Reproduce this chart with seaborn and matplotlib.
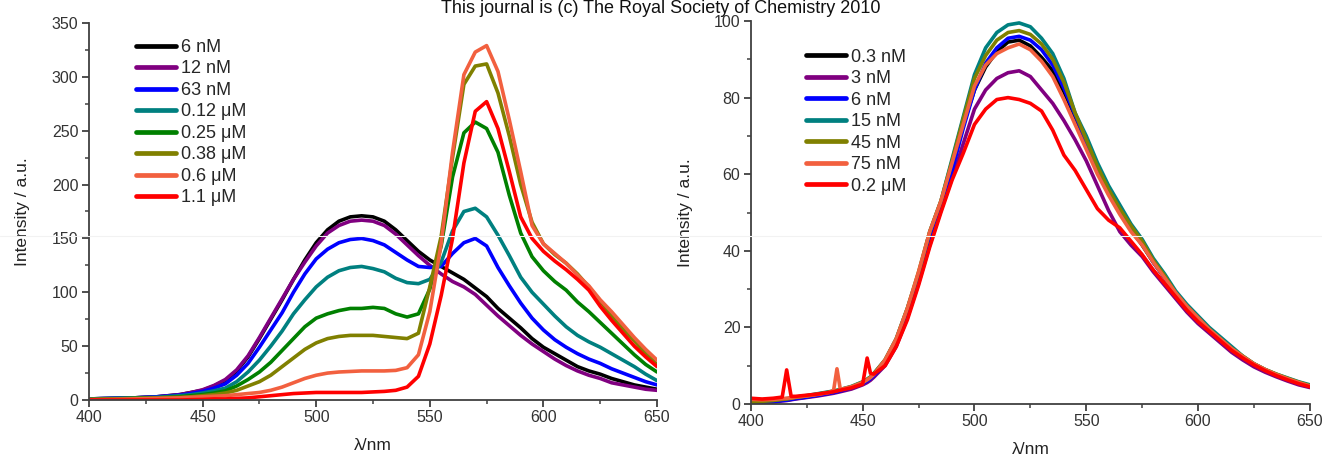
import numpy as np
import pandas as pd
import matplotlib
matplotlib.use("Agg")
import matplotlib.pyplot as plt
from matplotlib.lines import Line2D
from matplotlib.ticker import MultipleLocator
import seaborn as sns

# ---------------- left panel: emission spectra ----------------
wl_left = [400, 410, 420, 430, 440, 445, 450, 455, 460, 465, 470, 475, 480, 485,
           490, 495, 500, 505, 510, 515, 520, 525, 530, 535, 540, 545, 550, 555,
           560, 565, 570, 575, 580, 585, 590, 595, 600, 605, 610, 615, 620, 625,
           630, 635, 640, 645, 650]

left_labels = ['6 nM', '12 nM', '63 nM', '0.12 μM', '0.25 μM', '0.38 μM', '0.6 μM', '1.1 μM']
left_colors = ['#000000', '#800080', '#0000ff', '#008080', '#008000', '#808000', '#f2603f', '#ff0000']

l_6nM = [1, 1.5, 2, 3, 5, 7, 9, 13, 18, 27, 40, 57, 75, 93, 112, 130, 146, 158, 166, 170,
         171, 170, 166, 158, 148, 138, 130, 124, 118, 112, 104, 96, 85, 76, 67, 57, 49, 43,
         37, 31, 27, 24, 20, 17, 14, 12, 10]
l_12nM = [1, 1.5, 2, 3, 5, 7, 9.5, 13.5, 19, 28, 41, 58, 76, 94, 112, 128, 143, 155, 162, 166,
          167, 166, 162, 154, 144, 134, 125, 117, 110, 105, 98, 88, 78, 69, 60, 52, 45, 38,
          32, 27, 23, 20, 16, 14, 12, 10, 9]
l_63nM = [1, 1.5, 2, 3, 4.5, 6, 8, 11, 15, 23, 34, 49, 65, 81, 100, 117, 131, 140, 146, 149,
          150, 148, 144, 137, 130, 124, 123, 124, 136, 146, 150, 143, 123, 106, 90, 76, 65, 56,
          49, 43, 38, 34, 29, 25, 21, 17, 14]
l_012uM = [1, 1.5, 2, 2.5, 4, 5, 6.5, 8.5, 11, 17, 26, 37, 50, 64, 80, 93, 105, 114, 120, 123,
           124, 122, 119, 113, 109, 108, 112, 128, 157, 175, 178, 170, 153, 134, 114, 100, 89,
           78, 68, 60, 54, 49, 43, 37, 31, 24, 18]
l_025uM = [0.5, 1, 1.5, 2, 3, 4, 5, 6.5, 8.5, 13, 19, 26, 35, 46, 57, 68, 76, 80, 83, 85,
           85, 86, 85, 80, 77, 80, 103, 143, 207, 248, 258, 252, 230, 190, 155, 133, 120,
           110, 102, 91, 82, 72, 62, 52, 42, 33, 26]
l_038uM = [0.5, 1, 1.5, 2, 2.5, 3, 4, 5, 6.5, 9, 13, 17, 23, 31, 39, 47, 53, 57, 59, 60,
           60, 60, 59, 58, 57, 62, 105, 152, 225, 293, 310, 312, 285, 245, 200, 165, 145,
           135, 127, 117, 105, 92, 78, 66, 55, 43, 33]
l_06uM = [0.3, 0.5, 1, 1.5, 2, 2.5, 3, 3.5, 4, 5, 6, 7, 9, 12, 16, 20, 23, 25, 26, 26.5,
          27, 27, 27, 27.5, 30, 42, 82, 145, 230, 302, 323, 329, 305, 260, 212, 162, 145,
          136, 127, 116, 106, 93, 82, 70, 58, 47, 37]
l_11uM = [0, 0, 0, 0, 0, 0.3, 0.5, 1, 1, 1.5, 2, 3, 4, 5, 6, 6.5, 7, 7, 7, 7,
          7, 7.5, 8, 9, 12, 22, 52, 97, 150, 220, 268, 277, 252, 212, 170, 150, 138,
          129, 121, 112, 102, 87, 74, 62, 50, 40, 31]
left_series = [l_6nM, l_12nM, l_63nM, l_012uM, l_025uM, l_038uM, l_06uM, l_11uM]

# ---------------- right panel: emission spectra ----------------
wl_right = [400, 405, 410, 414, 416, 418, 420, 425, 430, 435, 437, 438.5, 440, 445, 450,
            452, 453.5, 455, 460, 465, 470, 475, 480, 485, 490, 495, 500, 505, 510, 515,
            520, 525, 530, 535, 540, 545, 550, 555, 560, 565, 570, 575, 580, 585, 590,
            595, 600, 605, 610, 615, 620, 625, 630, 635, 640, 645, 650]

right_labels = ['0.3 nM', '3 nM', '6 nM', '15 nM', '45 nM', '75 nM', '0.2 μM']
right_colors = ['#000000', '#800080', '#0000ff', '#008080', '#808000', '#f2603f', '#ff0000']

r_03nM = [0.3, 0.5, 0.7, 1, 1.1, 1.3, 1.5, 1.9, 2.4, 2.9, 3.1, 3.3, 3.5, 4.3, 5.4, 6.1, 6.7, 7.5,
          11, 16, 24, 33.5, 44, 52, 62, 73, 82, 88, 92, 94.5, 95, 93.5, 90.5, 87, 81.5, 75, 68,
          61, 55, 50, 45.5, 41.5, 37, 33, 29, 25.5, 22.3, 19.5, 17, 14.5, 12.3, 10.4, 8.9,
          7.6, 6.5, 5.5, 4.7]
r_3nM = [0.2, 0.3, 0.5, 0.8, 0.9, 1.1, 1.3, 1.7, 2.1, 2.6, 2.8, 3, 3.2, 3.9, 5, 5.6, 6.2, 7,
         10, 15, 22.5, 31.5, 41.5, 50.5, 59, 68, 77, 82, 85, 86.5, 87, 85.5, 82, 78.5, 74, 69,
         63.5, 57, 50.5, 45, 41.5, 38.5, 34.5, 31, 27.5, 24, 21, 18.5, 16, 13.5, 11.5, 9.7,
         8.3, 7.1, 6, 5, 4.3]
r_6nM = [0.2, 0.4, 0.6, 0.9, 1, 1.2, 1.4, 1.8, 2.3, 2.8, 3, 3.2, 3.4, 4.2, 5.3, 6, 6.6, 7.4,
         10.5, 15.5, 23, 32.5, 43, 51, 61, 72, 82, 89, 93, 95.5, 96, 95, 92.5, 88.5, 82.5,
         75.5, 68.5, 61.5, 55.5, 50.5, 46, 42, 37, 33, 29, 25.5, 22.5, 19.5, 17, 14.5, 12.3,
         10.4, 8.9, 7.6, 6.5, 5.5, 4.7]
r_15nM = [0.5, 0.8, 1, 1.3, 1.4, 1.6, 1.8, 2.2, 2.7, 3.2, 3.4, 3.6, 3.8, 4.6, 5.8, 6.5, 7.1, 8,
          11.5, 17, 25, 34, 45, 53, 64, 75, 86, 93, 97, 99, 99.5, 98.5, 95.5, 91.5, 85, 76, 70,
          63, 57, 52, 47, 43, 38, 34, 29.5, 26, 23, 20, 17.5, 15, 12.5, 10.5, 9, 7.8, 6.8,
          5.8, 5]
r_45nM = [0.4, 0.7, 0.9, 1.2, 1.3, 1.5, 1.7, 2.1, 2.6, 3.1, 3.3, 3.5, 3.7, 4.5, 5.7, 6.4, 7, 7.9,
          11.5, 17, 25, 34.5, 45, 53, 63.5, 74.5, 85, 91, 95, 97, 97.5, 96.5, 94, 90, 84, 76,
          69, 62, 56, 51, 46.5, 42.5, 37.5, 33.5, 29, 25.5, 22.5, 19.5, 17, 14.5, 12.5, 10.5,
          9, 7.8, 6.7, 5.7, 4.8]
r_75nM = [1.2, 1.1, 1.2, 1.4, 1.5, 1.6, 1.8, 2.1, 2.5, 3, 3.6, 9.2, 3.8, 4.5, 5.6, 6.3, 6.9, 7.7,
          11.5, 17, 25, 34.5, 45, 53, 63, 73, 83, 88.5, 91.5, 93, 94, 92.5, 89.5, 85.5, 79.5,
          73, 66.5, 60, 54.5, 49.5, 45, 41.5, 37, 33, 29, 25.5, 22.5, 19.5, 17, 14.5, 12.4,
          10.5, 9, 7.7, 6.6, 5.6, 4.7]
r_02uM = [1.5, 1.3, 1.5, 1.8, 8.9, 2, 2, 2.3, 2.6, 3, 3.2, 3.4, 3.6, 4.2, 5.2, 12, 8, 7.8,
          10, 15, 22, 31, 41, 50, 58.5, 65.5, 73, 77, 79.5, 80, 79.5, 78.5, 76.5, 71.5, 65,
          61, 56, 51, 48, 46, 42.5, 39, 35, 31.5, 28, 24.5, 21.5, 19, 16.5, 14, 12, 10.2,
          8.7, 7.4, 6.3, 5.3, 4.5]
right_series = [r_03nM, r_3nM, r_6nM, r_15nM, r_45nM, r_75nM, r_02uM]


def to_long(wl, labels, series):
    frames = [pd.DataFrame({'wl': wl, 'I': s, 'conc': lab}) for lab, s in zip(labels, series)]
    return pd.concat(frames, ignore_index=True)


df_left = to_long(wl_left, left_labels, left_series)
df_right = to_long(wl_right, right_labels, right_series)

sns.set_theme(style="ticks")
plt.rcParams['font.family'] = ['Liberation Sans', 'DejaVu Sans']
plt.rcParams['axes.linewidth'] = 1.3
plt.rcParams['axes.edgecolor'] = '#404040'

fig = plt.figure(figsize=(13.22, 4.57), dpi=100)
ax1 = fig.add_axes([0.0673, 0.1247, 0.4297, 0.825])
ax2 = fig.add_axes([0.568, 0.116, 0.4228, 0.838])

LW = 2.6


def style_axis(ax, df, labels, colors, ymax, ymajor, yminor, leg_xy, ylpad):
    sns.lineplot(data=df, x='wl', y='I', hue='conc', hue_order=labels,
                 palette=colors, linewidth=LW, ax=ax, legend=False,
                 sort=False, errorbar=None)
    ax.set_xlim(400, 650)
    ax.set_ylim(0, ymax)
    ax.xaxis.set_major_locator(MultipleLocator(50))
    ax.xaxis.set_minor_locator(MultipleLocator(25))
    ax.yaxis.set_major_locator(MultipleLocator(ymajor))
    ax.yaxis.set_minor_locator(MultipleLocator(yminor))
    ax.tick_params(which='major', direction='out', length=5, width=1.3,
                   color='#404040', labelsize=11.5, labelcolor='#333333', pad=2.5)
    ax.tick_params(which='minor', direction='out', length=3, width=1.1, color='#404040')
    sns.despine(ax=ax)
    ax.set_xlabel('λ/nm', fontsize=12.5, color='#222222', labelpad=9)
    ax.set_ylabel('Intensity / a.u.', fontsize=12.5, color='#222222', labelpad=ylpad)
    handles = [Line2D([0], [0], color=c, lw=LW + 0.8) for c in colors]
    ax.legend(handles, labels, loc='upper left', bbox_to_anchor=leg_xy,
              frameon=False, fontsize=13, handlelength=2.2, handletextpad=0.3,
              labelspacing=0.25, borderpad=0, borderaxespad=0)


style_axis(ax1, df_left, left_labels, left_colors, 350, 50, 25, (0.083, 0.958), 16)
style_axis(ax2, df_right, right_labels, right_colors, 100, 20, 10, (0.099, 0.928), 15)

# faint scan line across the page and the cropped journal header
fig.add_artist(Line2D([0, 1], [0.4836, 0.4836], transform=fig.transFigure,
                      color='#f2f2f2', lw=0.8))
fig.text(0.5, 0.999, 'This journal is (c) The Royal Society of Chemistry 2010',
         ha='center', va='top', fontsize=13, color='#111111')

fig.savefig('out.png', dpi=100)
